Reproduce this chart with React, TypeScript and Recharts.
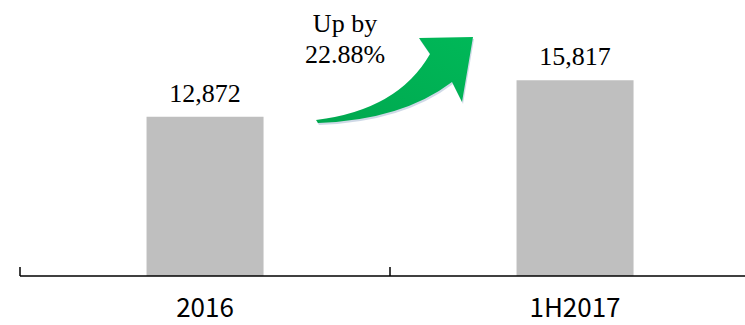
import React from 'react';
import { BarChart, Bar, XAxis, YAxis, LabelList, Customized } from 'recharts';

const periods = ['2016', '1H2017'];
const revenue = [12872, 15817];
const growthLines = ['Up by', '22.88%'];

const data = periods.map((name, i) => ({ name, value: revenue[i] }));

const CHART_W = 780;
const CHART_H = 325;
const MARGIN = { top: 0, right: 20, bottom: 0, left: 20 };
const BAND = (CHART_W - MARGIN.left - MARGIN.right) / periods.length;
const SERIF = "'Liberation Serif', 'Times New Roman', serif";

const PeriodTick = (props: any) => {
  const { x, y, payload, index } = props;
  const left = x - BAND / 2;
  return (
    <g>
      <line x1={left} y1={y - 9} x2={left} y2={y} stroke="#000" strokeWidth={1.5} />
      {index === periods.length - 1 && (
        <line x1={x + BAND / 2} y1={y - 9} x2={x + BAND / 2} y2={y} stroke="#000" strokeWidth={1.5} />
      )}
      <text
        x={x}
        y={y + 41}
        textAnchor="middle"
        fontSize={26}
        fontFamily="'Noto Sans CJK KR', 'Noto Sans', sans-serif"
        fill="#000"
      >
        {payload.value}
      </text>
    </g>
  );
};

const GrowthArrow = () => (
  <g>
    <defs>
      <linearGradient id="arrowGreen" x1="0" y1="1" x2="1" y2="0">
        <stop offset="0%" stopColor="#00A84F" />
        <stop offset="100%" stopColor="#00B858" />
      </linearGradient>
    </defs>
    <path
      d="M 316 120 Q 398 110 430 54 L 419 38 L 473 37 L 462 102 L 452 82 Q 402 120 318 123 Z"
      fill="#9fb3d0"
      opacity={0.5}
      transform="translate(1,2)"
    />
    <path
      d="M 316 120 Q 398 110 430 54 L 419 38 L 473 37 L 462 102 L 452 82 Q 402 120 318 123 Z"
      fill="url(#arrowGreen)"
    />
    {growthLines.map((t, i) => (
      <text key={t} x={345} y={32 + i * 31} textAnchor="middle" fontSize={26} fontFamily={SERIF} fill="#000">
        {t}
      </text>
    ))}
  </g>
);

export default function App() {
  return (
    <div style={{ position: 'absolute', left: 0, top: 0, width: 745, height: 325, overflow: 'hidden', background: '#fff' }}>
      <BarChart width={CHART_W} height={CHART_H} data={data} margin={MARGIN} barCategoryGap="34.2%">
        <XAxis
          dataKey="name"
          height={49}
          axisLine={{ stroke: '#000', strokeWidth: 1.5 }}
          tickLine={false}
          tickSize={0}
          tickMargin={0}
          tick={<PeriodTick />}
          interval={0}
        />
        <YAxis hide domain={[0, 22300]} />
        <Bar dataKey="value" fill="#BFBFBF" isAnimationActive={false}>
          <LabelList
            dataKey="value"
            position="top"
            offset={15}
            formatter={(v: any) => Number(v).toLocaleString('en-US')}
            style={{ fontSize: 26, fontFamily: SERIF, fill: '#000' }}
          />
        </Bar>
        <Customized component={GrowthArrow} />
      </BarChart>
    </div>
  );
}
